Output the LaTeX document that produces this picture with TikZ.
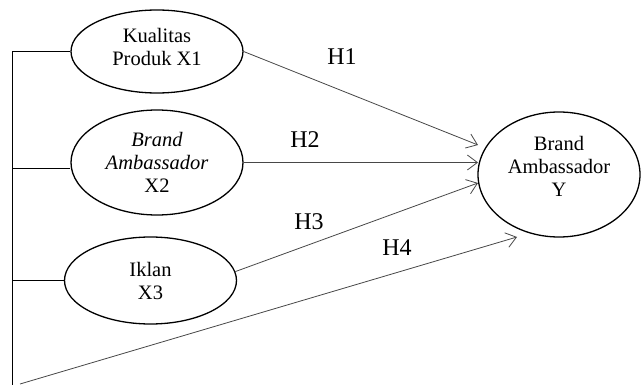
\documentclass[tikz,border=0pt]{standalone}
\usepackage{fontspec}
\setmainfont{Liberation Serif}
\usetikzlibrary{arrows.meta,shapes.geometric}
\begin{document}
\begin{tikzpicture}[x=1pt,y=-1pt,
        oval/.style={draw=black, line width=1.3pt, ellipse, inner sep=0pt},
        vartext/.style={align=center, font=\fontsize{20.5}{23}\selectfont},
        hyp/.style={draw=black!72, line width=0.8pt, -{Straight Barb[length=10pt,width=15pt]}},
        hlabel/.style={font=\fontsize{24}{26}\selectfont}]
        \useasboundingbox (0,0) rectangle (641,385);
        % variables
        \node[oval, minimum width=172, minimum height=83] (x1) at (157,51.5) {};
        \node[vartext] (x1text) at (157,47) {Kualitas\\Produk X1};
        \node[oval, minimum width=172, minimum height=105, vartext] (x2) at (157,162.5) {\itshape Brand\\\itshape Ambassador\\X2};
        \node[oval, minimum width=172, minimum height=87, vartext] (x3) at (150.5,280.5) {Iklan\\X3};
        \node[oval, minimum width=162, minimum height=125] (y) at (559,174.5) {};
        \node[vartext] (ytext) at (559,166) {Brand\\Ambassador\\Y};
        % left bracket
        \coordinate (top) at (12,51.5);
        \coordinate (bottom) at (12,385);
        \draw[black, line width=0.9pt] (bottom) -- (top) -- (x1.west);
        \draw[black, line width=0.9pt] (12,168) -- (x2.west |- 0,168);
        \draw[black, line width=0.9pt] (x3.west -| top) -- (x3.west);
        % hypotheses
        \coordinate (t1) at (478,145);
        \coordinate (t2) at (478,162.5);
        \coordinate (t3) at (478,183);
        \coordinate (t4) at (517,237);
        \coordinate (s4) at (20,384);
        \draw[hyp] (x1.east) -- (t1);
        \draw[hyp] (x2.east) -- (t2);
        \draw[hyp] (x3.6) -- (t3);
        \draw[hyp] (s4) -- (t4);
        \node[hlabel] (h1) at (342,57) {H1};
        \node[hlabel] (h2) at (305,140) {H2};
        \node[hlabel] (h3) at (309,222) {H3};
        \node[hlabel] (h4) at (397,248) {H4};
\end{tikzpicture}
\end{document}
